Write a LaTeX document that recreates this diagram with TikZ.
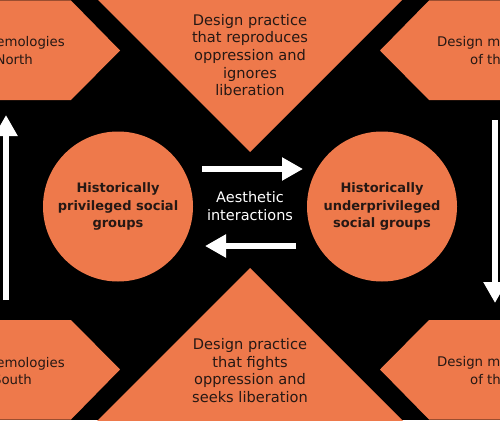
\documentclass[tikz,border=0pt]{standalone}
\usepackage{fontspec}
\setmainfont{DejaVu Sans}
\usetikzlibrary{arrows.meta}
\definecolor{orng}{RGB}{238,121,75}
\definecolor{ink}{RGB}{38,24,20}
\begin{document}
\begin{tikzpicture}[x=1pt,y=-1pt,
  orfill/.style={fill=orng,draw=none},
  midtxt/.style={text=ink,inner sep=0pt,align=center,font=\fontsize{14.6}{17.7}\selectfont},
  penttxt/.style={text=ink,inner sep=0pt,font=\fontsize{13.3}{16}\selectfont},
  groupcirc/.style={circle,fill=orng,draw=none,minimum size=150pt,inner sep=0pt,text=ink,align=center,font=\bfseries\fontsize{13}{17.8}\selectfont},
  bigarrow/.style={draw=white,line width=6pt,-{Triangle[length=21pt,width=22pt]}},
  whitetxt/.style={text=white,inner sep=0pt,align=center,font=\fontsize{14.5}{17.7}\selectfont}]
\useasboundingbox (0,0) rectangle (500,420);
\fill[black] (0,0) rectangle (500,420);
\begin{scope}
\clip (0,0) rectangle (500,420);
% triangles
\path[orfill] (93,-5) -- (407,-5) -- (250,152) -- cycle;
\path[orfill] (93,425) -- (407,425) -- (250,268) -- cycle;
% pentagons
\path[orfill] (-10,0.5) -- (71,0.5) -- (120,50.5) -- (71,100) -- (-10,100) -- cycle;
\path[orfill] (510,0.5) -- (429,0.5) -- (380,50.5) -- (429,100) -- (510,100) -- cycle;
\path[orfill] (-10,320) -- (71,320) -- (120,369.5) -- (71,419.5) -- (-10,419.5) -- cycle;
\path[orfill] (510,320) -- (429,320) -- (380,369.5) -- (429,419.5) -- (510,419.5) -- cycle;
% pentagon texts
\node[penttxt,anchor=base east] (tl1) at (65,47) {emologies};
\node[penttxt,anchor=base east] (tl2) at (33,64) {North};
\node[penttxt,anchor=base west] (tr1) at (437,47) {Design m};
\node[penttxt,anchor=base west] (tr2) at (470,64) {of th};
\node[penttxt,anchor=base east] (bl1) at (65,367) {emologies};
\node[penttxt,anchor=base east] (bl2) at (32,384) {South};
\node[penttxt,anchor=base west] (br1) at (437,366) {Design m};
\node[penttxt,anchor=base west] (br2) at (470,384) {of th};
% triangle texts
\node[midtxt] (toptxt) at (250,55) {Design practice\\that reproduces\\oppression and\\ignores\\liberation};
\node[midtxt] (bottxt) at (250,370.5) {Design practice\\that fights\\oppression and\\seeks liberation};
% circles
\node[groupcirc] (priv) at (118,206.5) {Historically\\privileged social\\groups};
\node[groupcirc] (under) at (382,206.5) {Historically\\underprivileged\\social groups};
% middle text
\node[whitetxt] (aes) at (250,206) {Aesthetic\\interactions};
% arrows
\coordinate (h1s) at (202,169);
\coordinate (h1e) at (303,169);
\coordinate (h2s) at (296,246);
\coordinate (h2e) at (205,246);
\coordinate (v1s) at (6,300);
\coordinate (v1e) at (6,115);
\coordinate (v2s) at (495,120);
\coordinate (v2e) at (495,303);
\draw[bigarrow] (h1s) -- (h1e);
\draw[bigarrow] (h2s) -- (h2e);
\draw[bigarrow] (v1s) -- (v1e);
\draw[bigarrow] (v2s) -- (v2e);
\end{scope}
\end{tikzpicture}
\end{document}
